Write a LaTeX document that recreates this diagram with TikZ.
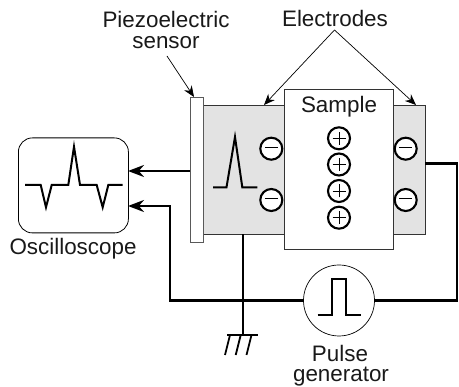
\documentclass[tikz,border=0pt]{standalone}
\usepackage{fontspec}
\setmainfont{Liberation Sans}
\usetikzlibrary{arrows.meta}
\tikzset{
  thin box/.style={draw=black!75,line width=1pt,fill=white,minimum width=#1,inner sep=0pt},
  label text/.style={font=\fontsize{22.4}{24}\selectfont,inner sep=0pt,align=center,text=black!90},
  charge/.style={circle,draw,line width=2.1pt,minimum size=22pt,inner sep=0pt,fill=white},
  wire/.style={line width=2.4pt,line join=miter},
  wave/.style={line width=2pt,line join=miter},
  leader/.style={line width=.7pt,-{Stealth[length=11pt,width=9pt]}},
  sig/.style={wire,-{Stealth[length=16pt,width=12pt]}},
  gray part/.style={draw=black!80,line width=.8pt,fill=black!11,inner sep=0pt},
}
\newcommand{\signsym}[1]{\tikz[baseline=-.5ex]{\draw[line width=.9pt] (-6.5pt,0)--(6.5pt,0);\ifnum#1=1 \draw[line width=.9pt] (0,-6.5pt)--(0,6.5pt);\fi}}
\begin{document}
\begin{tikzpicture}[x=1pt,y=-1pt]
\useasboundingbox (0,0) rectangle (459,387);
% electrodes
\node[gray part,minimum width=222pt,minimum height=129pt,anchor=north west] (elec) at (203,105.5) {};
\node[thin box=109pt,minimum height=160pt,draw=black!80,anchor=north west] (sample) at (284.3,89.5) {};
\node[thin box=13pt,minimum height=145pt,draw=black!65,anchor=north west] (sensor) at (190,97.5) {};
% oscilloscope
\node[draw,line width=.8pt,rounded corners=14pt,minimum width=110pt,minimum height=95pt,anchor=north west,inner sep=0pt] (osc) at (18,137.5) {};
\node[circle,draw,line width=.7pt,minimum size=71pt,inner sep=0pt] (gen) at (339,300.5) {};
% coordinates
\coordinate (oscA) at (128,171);
\coordinate (oscB) at (128,206);
\coordinate (senA) at (190,171);
\coordinate (cornerL) at (170,206);
\coordinate (cornerLB) at (170,300.5);
\coordinate (gnd) at (242.7,335);
\coordinate (gndT) at (242.7,234.5);
\coordinate (junc) at (242.7,300.5);
\coordinate (rOut) at (425.3,163.5);
\coordinate (rC1) at (457,163.5);
\coordinate (rC2) at (457,300.5);
\coordinate (apex) at (334.5,30);
\coordinate (sensL) at (167,56);
\coordinate (sensT) at (194,97);
\coordinate (eL) at (264,105);
\coordinate (eR) at (416,105);
% wires
\draw[sig] (senA) -- (oscA);
\draw[sig] (gen.west) -- (cornerLB) -- (cornerL) -- (oscB);
\draw[wire] (gndT) -- (gnd);
\draw[wire] (rOut) -- (rC1) -- (rC2) -- (gen.east);
% ground
\draw[line width=1.8pt] (227,335) -- (258,335);
\draw[line width=1.8pt] (230,335) -- (225,355);
\draw[line width=1.8pt] (240.7,335) -- (235.7,355);
\draw[line width=1.8pt] (251.5,335) -- (246.5,355);
% waveforms
\draw[wave] (25,185) -- (40.7,185) -- (46,207.3) -- (51.7,185) -- (68.3,185) -- (74,146.7) -- (80,185) -- (96.7,185) -- (102.7,207.3) -- (108.3,185) -- (122.7,185);
\draw[wave] (213,187.3) -- (226.5,187.3) -- (235,137) -- (242.3,187.3) -- (257.3,187.3);
\draw[wave] (317.7,315) -- (331.7,315) -- (331.7,279.3) -- (346,279.3) -- (346,315) -- (360.7,315);
% charges
\node[charge] (m1) at (271.3,148.7) {\signsym{0}};
\node[charge] (m2) at (271.3,200) {\signsym{0}};
\node[charge] (m3) at (405.7,148.7) {\signsym{0}};
\node[charge] (m4) at (405.7,200) {\signsym{0}};
\node[charge] (p1) at (339,138.3) {\signsym{1}};
\node[charge] (p2) at (339,164.5) {\signsym{1}};
\node[charge] (p3) at (339,191) {\signsym{1}};
\node[charge] (p4) at (339,217.7) {\signsym{1}};
% labels
\node[label text] (tP) at (166,19) {Piezoelectric};
\node[label text] (tS) at (166,43) {sensor};
\node[label text] (tE) at (335,18.5) {Electrodes};
\node[label text] (tSa) at (339,107) {Sample};
\node[label text] (tO) at (73,249) {Oscilloscope};
\node[label text] (tPu) at (340,353) {Pulse};
\node[label text] (tG) at (341,377) {generator};
% leaders
\draw[leader] (sensL) -- (sensT);
\draw[leader] (apex) -- (eL);
\draw[leader] (apex) -- (eR);
\end{tikzpicture}
\end{document}
